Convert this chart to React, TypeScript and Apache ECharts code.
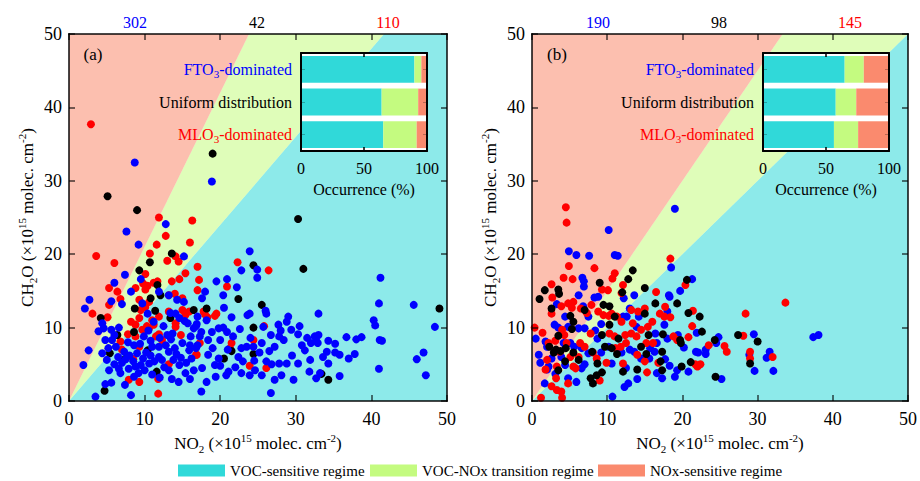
import { useEffect, useRef } from 'react';
import * as echarts from 'echarts';

const SERIF = '"Liberation Serif", "Times New Roman", serif';

// axis range of both main panels
const AXIS_MIN = 0;
const AXIS_MAX = 50;
const AXIS_STEP = 10;

// regimes (legend + background + inset bars)
const REGIME_NAMES = ['VOC-sensitive regime', 'VOC-NOx transition regime', 'NOx-sensitive regime'];
const REGIME_COLORS = ['#30D9D9', '#C4FB80', '#FA8A6E'];
// FNR thresholds [VOC/transition, transition/NOx]
const THRESHOLDS_A = [1.2, 2.1];
const THRESHOLDS_B = [1.0, 1.5];

// counts of days per group (FTO3, uniform, MLO3)
const COUNTS_A = [302, 42, 110];
const COUNTS_B = [190, 98, 145];
const COUNT_COLORS = ['#0000FF', '#000000', '#FF0000'];

// inset occurrence (%)
const INSET_CATEGORIES = ['FTO3-dominated', 'Uniform distribution', 'MLO3-dominated'];
const INSET_A_VOC = [90, 64, 65.3];
const INSET_A_TRANS = [5.5, 29, 26.5];
const INSET_A_NOX = [4.5, 7, 8.2];
const INSET_B_VOC = [64.8, 57.7, 56.3];
const INSET_B_TRANS = [15.2, 16.3, 19.2];
const INSET_B_NOX = [20, 26, 24.5];

// panel (a) scatter: [NO2, CH2O]
const A_FTO: number[][] = [
  [8.7, 32.5], [18.9, 29.9],
  [12.8, 24.1], [7.6, 23.1], [9.2, 21.3], [15.2, 19.7], [7.4, 17.2], [9.5, 16.6], [6.0, 16.1], [8.2, 14.9], [11.9, 14.9],
  [13.2, 14.4], [14.3, 13.8], [15.2, 13.5], [5.6, 13.6], [7.0, 13.2], [2.7, 13.8], [2.1, 12.6], [9.7, 13.3], [10.4, 11.9],
  [14.1, 11.9], [17.0, 11.5], [4.4, 10.6], [4.6, 9.9], [13.4, 12.0], [14.6, 11.3], [15.7, 10.6], [16.5, 9.9], [5.6, 9.7],
  [6.6, 10.0], [9.9, 8.8], [13.0, 9.0], [13.7, 9.2], [16.1, 8.8], [5.7, 8.3], [4.8, 8.3], [4.4, 6.5], [2.6, 6.9], [1.9, 4.9],
  [7.3, 6.7], [11.0, 7.4], [11.9, 7.4], [12.8, 7.6], [13.2, 6.7], [15.0, 7.9], [15.9, 6.9], [6.2, 7.4], [7.5, 5.7], [8.8, 4.7],
  [5.3, 4.2], [6.8, 3.8], [7.9, 4.4], [9.5, 4.9], [10.6, 5.1], [11.9, 6.0], [13.2, 4.2], [14.6, 4.9], [15.4, 3.8], [16.5, 4.2],
  [8.6, 3.3], [5.6, 2.5], [4.8, 2.3], [8.2, 0.8], [3.5, 0.6],
  [6.5, 6.0], [7.0, 5.2], [8.0, 6.2], [8.5, 5.4], [9.0, 6.5], [9.8, 5.8], [10.2, 6.6], [10.8, 6.2], [11.3, 5.4], [12.3, 5.6],
  [12.6, 4.6], [13.8, 5.6], [14.2, 6.4], [14.8, 5.9], [15.5, 5.2], [16.2, 5.8], [16.8, 7.2], [16.0, 7.6], [14.0, 7.2], [13.5, 8.4],
  [12.0, 8.6], [10.8, 8.2], [9.4, 7.8], [8.6, 7.6], [7.8, 8.0], [6.0, 5.0], [6.6, 4.4], [5.0, 5.6], [9.2, 3.8], [10.0, 4.2],
  [11.0, 3.6], [12.0, 3.2], [13.6, 3.0], [14.5, 2.6], [16.0, 3.0], [7.4, 2.2], [6.0, 9.0], [5.2, 7.2], [3.9, 9.5], [12.5, 10.2],
  [11.2, 10.8], [10.5, 9.6], [15.3, 10.9], [16.8, 10.2],
  [23.9, 20.4], [22.8, 17.8], [24.9, 17.9], [24.9, 16.8], [19.5, 16.3], [20.9, 16.6], [22.2, 15.5], [18.0, 14.9], [17.6, 14.0],
  [20.4, 14.4], [26.1, 11.9], [26.0, 12.3], [23.9, 11.9], [23.6, 11.7], [21.5, 11.4], [29.0, 11.5], [28.8, 10.8], [33.0, 11.9],
  [25.7, 10.1], [27.7, 10.4], [28.0, 9.6], [29.4, 9.7], [26.7, 9.0], [27.8, 8.8], [30.3, 9.1], [27.2, 7.4], [28.4, 8.3], [30.8, 7.6],
  [31.2, 6.9], [32.5, 8.8], [32.9, 7.9], [32.0, 7.9], [17.5, 9.4], [18.9, 9.4], [19.8, 9.9], [20.4, 10.0], [20.9, 9.4], [21.7, 8.8],
  [17.3, 8.8], [18.4, 8.3], [20.0, 8.3], [22.8, 7.2], [23.5, 7.4], [24.4, 7.4], [25.5, 7.9], [18.4, 6.3], [19.8, 5.8], [22.4, 6.0],
  [25.2, 6.6], [26.1, 5.4], [26.8, 5.0], [27.8, 5.1], [28.8, 5.1], [30.3, 5.1], [31.9, 5.6], [17.6, 4.5], [19.3, 4.9], [21.1, 4.0],
  [22.0, 4.6], [22.8, 3.8], [23.9, 3.5], [24.6, 4.2], [25.5, 3.5], [28.1, 3.5], [27.2, 2.9], [29.7, 2.9], [31.8, 4.0], [32.7, 3.1],
  [33.2, 3.8], [18.2, 2.6], [17.5, 1.3], [26.7, 1.1], [19.4, 3.3], [20.8, 3.5], [17.0, 7.6], [21.0, 7.0], [23.0, 5.4], [24.0, 8.6],
  [22.6, 9.8], [19.0, 7.2], [18.2, 11.0], [16.9, 10.5], [20.5, 12.7], [30.5, 10.2], [31.5, 8.6], [26.5, 6.8], [29.5, 6.2], [24.5, 5.5],
  [20.0, 4.8], [33.0, 9.0], [32.7, 8.2],
  [41.2, 16.8], [41.0, 13.3], [45.6, 13.1], [40.3, 11.0], [40.5, 10.3], [48.4, 10.1], [34.3, 8.2], [35.2, 7.8], [34.1, 6.7],
  [35.2, 6.6], [35.8, 6.3], [36.7, 8.7], [38.0, 8.4], [38.7, 8.7], [37.0, 5.8], [37.8, 6.4], [41.1, 8.3], [41.4, 8.2], [34.3, 5.1],
  [35.8, 3.4], [41.0, 4.4], [46.0, 5.7], [46.9, 6.6], [47.2, 3.5], [33.6, 6.0],
];
const A_UNIFORM: number[][] = [
  [19.0, 33.7], [5.1, 27.9],
  [9.0, 26.0], [10.7, 18.9], [13.6, 20.1], [9.3, 17.8], [11.7, 15.8], [12.1, 14.4], [10.8, 14.0], [8.7, 12.6], [11.4, 12.3],
  [16.5, 12.4], [4.2, 11.3], [13.4, 11.3], [6.4, 9.0], [8.6, 9.4], [5.4, 6.5], [10.4, 6.9], [7.4, 5.7], [11.6, 4.0], [4.7, 1.4],
  [30.3, 24.8], [31.0, 18.0], [24.4, 18.5], [22.4, 13.9], [25.5, 13.1], [18.2, 12.6], [24.4, 10.0], [21.5, 6.8], [20.5, 5.8],
  [24.4, 6.4], [49.0, 12.6], [33.4, 3.7], [34.3, 2.9],
];
const A_MLO: number[][] = [
  [2.9, 37.7],
  [11.9, 25.0], [16.3, 24.6], [12.8, 22.5], [11.6, 21.3], [16.0, 21.6], [3.6, 19.75], [6.0, 18.8], [10.7, 20.1], [13.0, 19.1],
  [14.1, 19.7], [14.5, 19.0], [15.4, 17.4], [17.0, 18.3], [10.1, 17.3], [9.8, 16.0], [10.4, 15.7], [11.2, 16.1], [11.7, 16.3],
  [10.1, 15.2], [8.8, 15.4], [5.3, 15.4], [6.4, 14.9], [13.6, 16.3], [14.6, 16.6], [17.0, 15.1], [13.2, 14.4], [14.0, 14.6],
  [15.0, 14.0], [6.8, 13.9], [3.1, 11.9], [5.3, 13.1], [9.3, 13.8], [10.6, 13.5], [9.5, 12.4], [10.1, 12.8], [11.0, 11.0],
  [11.9, 11.5], [13.2, 12.2], [15.0, 12.4], [15.4, 11.7], [15.9, 12.2], [5.1, 11.4], [8.2, 10.8], [8.8, 10.4], [9.3, 11.3],
  [9.7, 9.7], [10.6, 9.9], [10.3, 10.2], [11.2, 10.4], [14.1, 10.6], [14.1, 10.1], [7.8, 9.1], [8.8, 8.8], [11.5, 8.8],
  [11.9, 9.1], [12.3, 8.3], [14.8, 9.0], [6.8, 8.1], [7.0, 7.0], [9.3, 7.4], [13.2, 5.0], [16.8, 6.3], [8.5, 5.7], [11.8, 3.0],
  [7.9, 2.9], [9.3, 2.6], [11.8, 1.0],
  [22.3, 18.9], [26.4, 17.8], [17.2, 16.5], [20.9, 15.6], [18.3, 11.4], [19.5, 11.9], [19.3, 11.6], [25.8, 10.2], [17.3, 7.9],
  [21.5, 7.9], [21.3, 7.2], [24.4, 8.3], [16.9, 6.3], [23.9, 4.8], [26.1, 4.5], [18.0, 11.8], [17.8, 12.2],
];

// panel (b) scatter: [NO2, CH2O]
const B_FTO: number[][] = [
  [10.2, 23.3], [4.9, 20.4], [5.9, 19.9], [7.6, 19.8], [11.0, 19.9], [11.4, 19.8], [6.7, 16.8], [6.9, 16.3], [6.9, 15.6],
  [6.2, 14.4], [8.3, 14.1], [8.8, 14.2], [3.3, 13.2], [12.2, 14.0], [13.6, 14.4], [4.4, 11.5], [6.8, 12.9], [7.5, 11.5],
  [9.2, 10.5], [12.1, 11.5], [12.6, 11.5], [13.0, 12.6], [14.2, 11.5], [13.9, 10.1], [3.0, 10.4], [3.5, 10.0], [0.5, 8.5],
  [4.8, 10.1], [6.2, 9.9], [7.0, 9.9], [8.4, 9.6], [8.7, 8.5], [1.8, 8.1], [2.0, 7.4], [4.2, 7.9], [5.6, 7.4], [6.6, 7.2],
  [0.9, 6.3], [1.1, 5.2], [2.6, 5.8], [3.9, 6.0], [7.5, 6.5], [9.2, 6.6], [10.2, 7.4], [11.9, 6.6], [13.0, 7.0], [13.6, 6.7],
  [14.5, 5.8], [15.6, 5.8], [2.2, 4.7], [4.4, 4.9], [7.0, 5.0], [6.6, 4.45], [10.6, 5.1], [12.5, 4.5], [2.0, 4.3], [3.1, 3.7],
  [1.7, 2.4], [4.8, 3.1], [5.9, 2.6], [12.8, 2.4], [12.3, 1.9], [14.0, 3.0], [10.7, 0.6], [5.1, 7.9],
  [19.0, 26.2], [18.5, 18.2], [21.3, 16.6], [19.7, 15.0], [18.2, 14.4], [18.3, 14.2], [18.0, 12.2], [17.6, 10.4], [16.4, 9.2],
  [19.4, 9.0], [21.9, 9.3], [29.5, 9.1], [24.8, 8.7], [24.5, 7.9], [23.1, 7.0], [21.8, 6.7], [22.1, 6.6], [23.1, 6.4], [20.2, 7.3],
  [16.6, 7.9], [18.0, 8.5], [15.7, 7.2], [16.3, 6.7], [17.7, 5.7], [18.3, 4.8], [16.6, 3.8], [17.3, 3.1], [19.3, 4.2], [19.0, 3.3],
  [20.8, 4.0], [28.9, 6.3], [29.6, 4.1], [31.6, 6.7], [31.2, 5.9], [32.1, 4.1], [25.2, 3.0],
  [37.4, 8.7], [38.1, 9.0],
];
const B_UNIFORM: number[][] = [
  [13.4, 17.8], [12.8, 16.6], [9.0, 16.1], [1.7, 15.1], [3.5, 15.2], [3.6, 14.6], [1.0, 13.9], [12.0, 14.8], [15.0, 15.4],
  [2.6, 12.6], [5.1, 11.6], [5.5, 10.8], [7.0, 12.4], [9.5, 13.1], [10.3, 12.9], [11.0, 11.5], [10.3, 10.4], [15.0, 11.9],
  [5.3, 9.8], [3.5, 8.9], [9.3, 9.0], [11.5, 8.5], [14.5, 7.4], [15.5, 9.0], [2.3, 7.4], [4.5, 7.2], [5.5, 6.6], [3.8, 6.8],
  [2.9, 6.6], [3.2, 7.0], [8.0, 6.7], [9.7, 7.4], [10.6, 7.2], [11.3, 6.4], [15.2, 6.4], [4.4, 5.4], [6.2, 5.6], [8.7, 5.1],
  [12.1, 4.0], [14.0, 4.3], [3.5, 4.2], [7.8, 3.1], [8.1, 2.4], [8.6, 3.5], [9.3, 3.9],
  [20.6, 16.5], [16.4, 13.3], [19.3, 13.3], [20.8, 12.0], [22.3, 11.5], [22.6, 9.45], [17.4, 9.1], [19.7, 8.3], [27.4, 9.0],
  [30.0, 8.1], [24.3, 8.3], [17.3, 6.7], [17.1, 5.4], [17.3, 4.2], [19.9, 4.7], [21.1, 5.3], [29.0, 5.1], [24.4, 3.3], [19.8, 7.9],
];
const B_MLO: number[][] = [
  [4.5, 26.4], [4.6, 24.3], [4.9, 18.4], [8.3, 18.1], [4.2, 16.8], [5.4, 16.6], [2.6, 15.9], [2.7, 14.1], [11.0, 17.4],
  [10.7, 16.7], [12.1, 15.8], [9.3, 15.2], [10.1, 15.1], [11.9, 14.7], [5.5, 13.5], [4.8, 13.3], [5.3, 12.7], [3.9, 12.9],
  [2.6, 11.9], [6.5, 12.6], [7.9, 13.1], [7.3, 12.0], [8.8, 12.2], [9.5, 11.7], [10.6, 11.9], [10.2, 11.6], [11.3, 11.5],
  [11.9, 10.8], [13.2, 12.4], [14.1, 12.2], [15.0, 12.6], [13.4, 10.6], [14.5, 9.7], [15.4, 10.1], [0.35, 10.0], [1.4, 9.3],
  [4.0, 9.7], [4.3, 9.0], [7.8, 9.2], [10.3, 9.2], [11.0, 8.8], [12.4, 9.0], [13.2, 9.2], [13.9, 8.8], [15.2, 7.9], [2.2, 7.9],
  [3.1, 8.2], [4.6, 7.9], [6.4, 7.9], [7.0, 7.4], [3.7, 6.7], [2.0, 5.6], [5.1, 6.0], [6.2, 6.0], [8.1, 6.6], [8.6, 5.8],
  [11.1, 7.2], [11.8, 7.4], [12.5, 7.9], [14.0, 6.3], [15.0, 5.4], [3.3, 4.7], [5.5, 4.7], [5.8, 4.45], [9.9, 5.2], [12.1, 5.1],
  [15.3, 3.9], [1.8, 4.3], [3.2, 3.1], [2.6, 2.0], [4.8, 2.4], [9.0, 2.8], [3.3, 1.5], [3.9, 1.3], [4.0, 0.45], [1.2, 0.45],
  [18.4, 19.4], [20.4, 15.8], [16.5, 14.85], [17.7, 12.85], [17.0, 11.9], [17.6, 11.5], [18.4, 11.4], [21.4, 12.3], [28.4, 11.9],
  [16.0, 10.8], [21.3, 10.2], [18.8, 8.8], [19.3, 8.3], [20.8, 8.7], [28.1, 8.9], [25.6, 7.5], [25.9, 6.7], [23.5, 7.6],
  [16.1, 7.9], [16.8, 5.2], [21.7, 5.0], [22.4, 5.0], [22.0, 4.7], [29.0, 6.7], [29.0, 5.8], [32.0, 6.0],
  [33.7, 13.4],
];

const FRAME = 'rgba(0,0,0,0.72)';
const TICK = 'rgba(0,0,0,0.55)';

const nameRich = {
  b: { fontSize: 17, lineHeight: 22, fontFamily: SERIF, color: '#000' },
  sub: { fontSize: 11, lineHeight: 11, verticalAlign: 'bottom', fontFamily: SERIF, color: '#000' },
  sup: { fontSize: 11, lineHeight: 11, verticalAlign: 'top', fontFamily: SERIF, color: '#000' },
};

function regionPolys(th: number[]) {
  const [lo, hi] = th;
  const xHi = AXIS_MAX / hi;
  const xLo = AXIS_MAX / lo;
  return [
    [[0, 0], [xLo, AXIS_MAX], [AXIS_MAX, AXIS_MAX], [AXIS_MAX, 0]],
    [[0, 0], [xHi, AXIS_MAX], [xLo, AXIS_MAX]],
    [[0, 0], [0, AXIS_MAX], [xHi, AXIS_MAX]],
  ];
}

function mainAxes(gi: number) {
  const common = {
    type: 'value', gridIndex: gi, min: AXIS_MIN, max: AXIS_MAX, interval: AXIS_STEP, z: 5,
    axisLine: { show: true, onZero: false, lineStyle: { color: FRAME, width: 2 } },
    axisTick: { show: true, inside: true, length: 6, lineStyle: { color: TICK, width: 2 } },
    splitLine: { show: false },
  };
  const label = { show: true, color: '#000', fontSize: 18, fontFamily: SERIF };
  const x = [
    {
      ...common, position: 'bottom', axisLabel: { ...label, margin: 9 },
      name: '{b|NO}{sub|2}{b| (×10}{sup|15}{b| molec. cm}{sup|-2}{b|)}',
      nameLocation: 'middle', nameGap: 30, nameTextStyle: { rich: nameRich },
    },
    { ...common, position: 'top', axisLabel: { show: false } },
  ];
  const y = [
    {
      ...common, position: 'left', axisLabel: { ...label, margin: 7 },
      name: '{b|CH}{sub|2}{b|O (×10}{sup|15}{b| molec. cm}{sup|-2}{b|)}',
      nameLocation: 'middle', nameGap: 31, nameRotate: 90, nameTextStyle: { rich: nameRich },
    },
    { ...common, position: 'right', axisLabel: { show: false } },
  ];
  return { x, y };
}

const catRich = {
  fb: { fontSize: 16, lineHeight: 20, color: '#0000FF', fontFamily: SERIF },
  fs: { fontSize: 11, lineHeight: 11, verticalAlign: 'bottom', color: '#0000FF', fontFamily: SERIF },
  kb: { fontSize: 16, lineHeight: 20, color: '#000000', fontFamily: SERIF },
  rb: { fontSize: 16, lineHeight: 20, color: '#FF0000', fontFamily: SERIF },
  rs: { fontSize: 11, lineHeight: 11, verticalAlign: 'bottom', color: '#FF0000', fontFamily: SERIF },
};

function catLabel(v: string) {
  if (v === INSET_CATEGORIES[0]) return '{fb|FTO}{fs|3}{fb|-dominated}';
  if (v === INSET_CATEGORIES[2]) return '{rb|MLO}{rs|3}{rb|-dominated}';
  return '{kb|' + v + '}';
}

function insetAxes(gi: number) {
  const line = { show: true, onZero: false, lineStyle: { color: '#000', width: 2 } };
  const x = [
    {
      type: 'value', gridIndex: gi, position: 'bottom', min: 0, max: 100, interval: 50, z: 12,
      axisLine: line,
      axisTick: { show: true, inside: true, length: 4, lineStyle: { color: '#000', width: 1.5 } },
      axisLabel: { show: true, color: '#000', fontSize: 16, fontFamily: SERIF, margin: 9 },
      splitLine: { show: false },
      name: 'Occurrence (%)', nameLocation: 'middle', nameGap: 30,
      nameTextStyle: { fontSize: 16, fontFamily: SERIF, color: '#000' },
    },
    {
      type: 'value', gridIndex: gi, position: 'top', min: 0, max: 100, interval: 50, z: 12,
      axisLine: line,
      axisTick: { show: true, inside: true, length: 4, lineStyle: { color: '#000', width: 1.5 } },
      axisLabel: { show: false }, splitLine: { show: false },
    },
  ];
  const ytick = { show: true, inside: true, alignWithLabel: true, length: 4, lineStyle: { color: 'rgba(0,0,0,0.25)', width: 1 } };
  const y = [
    {
      type: 'category', gridIndex: gi, position: 'left', data: INSET_CATEGORIES, inverse: true, z: 12,
      axisLine: line, axisTick: ytick,
      axisLabel: { show: true, margin: 9, formatter: catLabel, rich: catRich },
    },
    {
      type: 'category', gridIndex: gi, position: 'right', data: INSET_CATEGORIES, inverse: true, z: 12,
      axisLine: line, axisTick: ytick, axisLabel: { show: false },
    },
  ];
  return { x, y };
}

function regionSeries(th: number[], axisIndex: number) {
  return regionPolys(th).map((poly, i) => ({
    type: 'custom',
    name: REGIME_NAMES[i],
    xAxisIndex: axisIndex,
    yAxisIndex: axisIndex,
    z: 1,
    silent: true,
    itemStyle: { color: REGIME_COLORS[i] },
    data: [[0, 0]],
    renderItem: (_p: any, api: any) => ({
      type: 'polygon',
      shape: { points: poly.map((p) => api.coord(p)) },
      style: { fill: REGIME_COLORS[i], opacity: 0.55 },
    }),
  }));
}

function scatter(name: string, data: number[][], color: string, axisIndex: number) {
  return {
    type: 'scatter', name, data, xAxisIndex: axisIndex, yAxisIndex: axisIndex,
    symbolSize: 8, itemStyle: { color, opacity: 1 }, z: 3, silent: true,
  };
}

function insetSeries(vals: number[][], axisIndex: number, stack: string) {
  return vals.map((v, i) => ({
    type: 'bar', name: stack + i, stack, data: v, xAxisIndex: axisIndex, yAxisIndex: axisIndex,
    itemStyle: { color: REGIME_COLORS[i] }, barCategoryGap: '18%', z: 11, silent: true,
  }));
}

function countTexts(counts: number[], xs: number[]) {
  return counts.map((c, i) => ({
    type: 'text', x: xs[i], y: 22, z: 20,
    style: {
      text: String(c), fill: COUNT_COLORS[i], fontSize: 16, fontFamily: SERIF,
      align: 'center', verticalAlign: 'middle', textAlign: 'center', textVerticalAlign: 'middle',
    },
  }));
}

export default function App() {
  const ref = useRef<HTMLDivElement>(null);
  useEffect(() => {
    if (!ref.current) return;
    const chart = echarts.init(ref.current, undefined, { renderer: 'svg' });
    const ma = mainAxes(0);
    const mb = mainAxes(1);
    const ia = insetAxes(2);
    const ib = insetAxes(3);
    const legendLefts = [178, 370, 598];
    chart.setOption({
      animation: false,
      backgroundColor: '#fff',
      grid: [
        { left: 69, top: 34, width: 378, height: 367 },
        { left: 532, top: 34, width: 378, height: 367 },
        { left: 301, top: 53, width: 126, height: 98, show: true, backgroundColor: '#fff', borderWidth: 0, z: 10 },
        { left: 763, top: 53, width: 126, height: 98, show: true, backgroundColor: '#fff', borderWidth: 0, z: 10 },
      ],
      xAxis: [...ma.x, ...mb.x, ...ia.x, ...ib.x],
      yAxis: [...ma.y, ...mb.y, ...ia.y, ...ib.y],
      legend: REGIME_NAMES.map((n, i) => ({
        data: [{ name: n, itemStyle: { color: REGIME_COLORS[i], opacity: 1 } }],
        left: legendLefts[i], top: 463, padding: 0, itemWidth: 47, itemHeight: 12, icon: 'rect',
        selectedMode: false,
        textStyle: { fontSize: 15, fontFamily: SERIF, color: '#000' },
      })),
      graphic: [
        ...countTexts(COUNTS_A, [135, 257, 388]),
        ...countTexts(COUNTS_B, [598, 719, 850]),
        { type: 'text', x: 93, y: 54, z: 20, style: { text: '(a)', fill: '#000', fontSize: 17, fontFamily: SERIF, align: 'center', verticalAlign: 'middle', textAlign: 'center', textVerticalAlign: 'middle' } },
        { type: 'text', x: 557, y: 54, z: 20, style: { text: '(b)', fill: '#000', fontSize: 17, fontFamily: SERIF, align: 'center', verticalAlign: 'middle', textAlign: 'center', textVerticalAlign: 'middle' } },
      ],
      series: [
        ...regionSeries(THRESHOLDS_A, 0),
        ...regionSeries(THRESHOLDS_B, 2),
        scatter('a-MLO', A_MLO, COUNT_COLORS[2], 0),
        scatter('a-UNI', A_UNIFORM, COUNT_COLORS[1], 0),
        scatter('a-FTO', A_FTO, COUNT_COLORS[0], 0),
        scatter('b-FTO', B_FTO, COUNT_COLORS[0], 2),
        scatter('b-MLO', B_MLO, COUNT_COLORS[2], 2),
        scatter('b-UNI', B_UNIFORM, COUNT_COLORS[1], 2),
        ...insetSeries([INSET_A_VOC, INSET_A_TRANS, INSET_A_NOX], 4, 'ia'),
        ...insetSeries([INSET_B_VOC, INSET_B_TRANS, INSET_B_NOX], 6, 'ib'),
      ],
    });
    return () => chart.dispose();
  }, []);
  return <div ref={ref} style={{ position: 'absolute', left: 0, top: 0, width: 920, height: 481 }} />;
}
